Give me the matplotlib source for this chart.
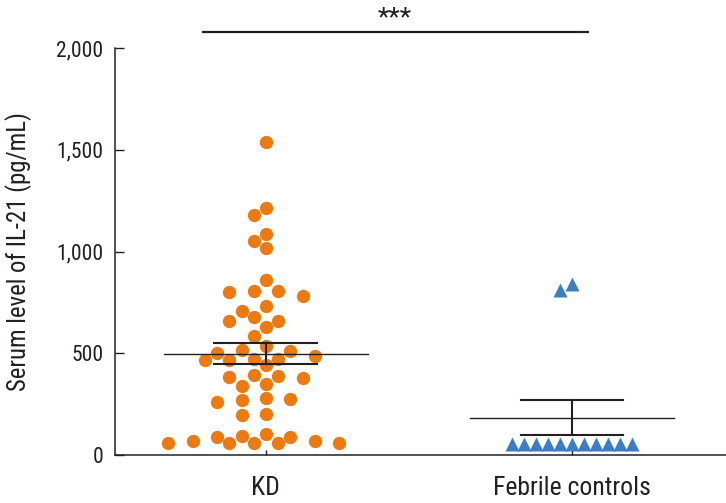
import numpy as np
import matplotlib
matplotlib.use("Agg")
import matplotlib.pyplot as plt
from matplotlib import font_manager

avail = {f.name for f in font_manager.fontManager.ttflist}
fam = [f for f in ["Roboto Condensed", "Liberation Sans Narrow", "Liberation Sans", "DejaVu Sans"] if f in avail]
plt.rcParams["font.family"] = fam

categories = ["KD", "Febrile controls"]
kd_values = [1540, 1212, 1179, 1085, 1018, 1051, 859, 805, 800, 780, 806, 706, 731,
             660, 627, 660, 678, 583, 534, 501, 509, 471, 468, 468, 514, 471, 488,
             443, 391, 383, 340, 350, 379, 389, 279, 268, 260, 276, 199, 203,
             61, 61, 90, 70, 95, 70, 102, 61, 90, 61, 61]
fc_values = [842, 809, 55, 55, 55, 55, 55, 55, 55, 55, 55, 55, 55]
means = [497, 183]
sems = [51, 87]
y_ticks = [0, 500, 1000, 1500, 2000]
y_label = "Serum level of IL-21 (pg/mL)"
sig_text = "***"

orange = "#EC7A10"
blue = "#3A7EC4"
ink = "#231F20"

fig = plt.figure(figsize=(7.26, 5.03), dpi=100)
ax = fig.add_axes([115 / 726, 48 / 503, 611 / 726, 407 / 503])
ax.set_xlim(-0.493, 1.503)
ax.set_ylim(0, 2000)


def swarm_offsets(values, center, diam_px, step_px):
    vals = np.asarray(values, float)
    pts = ax.transData.transform(np.column_stack([np.full(len(vals), center), vals]))
    ypx = pts[:, 1]
    px_per_x = ax.transData.transform([(1, 0)])[0, 0] - ax.transData.transform([(0, 0)])[0, 0]
    order = np.argsort(-vals, kind="stable")
    placed = []
    xs = np.zeros(len(vals))
    cands = [0]
    for k in range(1, 40):
        cands += [-k, k]
    for i in order:
        y = ypx[i]
        neigh = [(px, py) for px, py in placed if abs(py - y) < diam_px]
        for k in cands:
            c = k * step_px
            if all((c - px) ** 2 + (y - py) ** 2 >= diam_px ** 2 - 1e-6 for px, py in neigh):
                xs[i] = c
                break
        placed.append((xs[i], y))
    return center + xs / px_per_x


kd_x = swarm_offsets(kd_values, 0, 13.3, 12.2)
fc_x = swarm_offsets(fc_values, 1, 12.0, 12.0)

ax.plot(kd_x, kd_values, "o", ms=9.6, color=orange, mec="none", zorder=2, clip_on=False)
ax.plot(fc_x, fc_values, "^", ms=10.2, color=blue, mec="none", zorder=2, clip_on=False)

for i, (m, s) in enumerate(zip(means, sems)):
    ax.plot([i - 0.333, i + 0.333], [m, m], color=ink, lw=1.0, zorder=3)
    ax.plot([i, i], [m - s, m + s], color=ink, lw=1.5, zorder=3)
    for yy in (m - s, m + s):
        ax.plot([i - 0.168, i + 0.168], [yy, yy], color=ink, lw=1.5, zorder=3)

# significance bar
ax.plot([-0.207, 1.053], [2077, 2077], color=ink, lw=1.6, clip_on=False)
ax.text(0.42, 2148, sig_text, ha="center", va="center", fontsize=19, color=ink, clip_on=False)

for side in ("top", "right"):
    ax.spines[side].set_visible(False)
for side in ("left", "bottom"):
    ax.spines[side].set_linewidth(1.1)
    ax.spines[side].set_color(ink)

ax.set_yticks(y_ticks)
ax.set_yticklabels([f"{t:,}" for t in y_ticks])
ax.set_xticks([0, 1])
ax.set_xticklabels(categories)
ax.tick_params(axis="y", direction="in", length=6.5, width=1.0, pad=8.5, labelsize=15.5, colors=ink)
ax.tick_params(axis="x", direction="in", length=3.5, width=1.0, pad=15, labelsize=18.5, colors=ink)
ax.set_ylabel(y_label, fontsize=17.8, color=ink)
ax.yaxis.set_label_coords(-0.136, 0.501)

fig.savefig("out.png", dpi=100)
